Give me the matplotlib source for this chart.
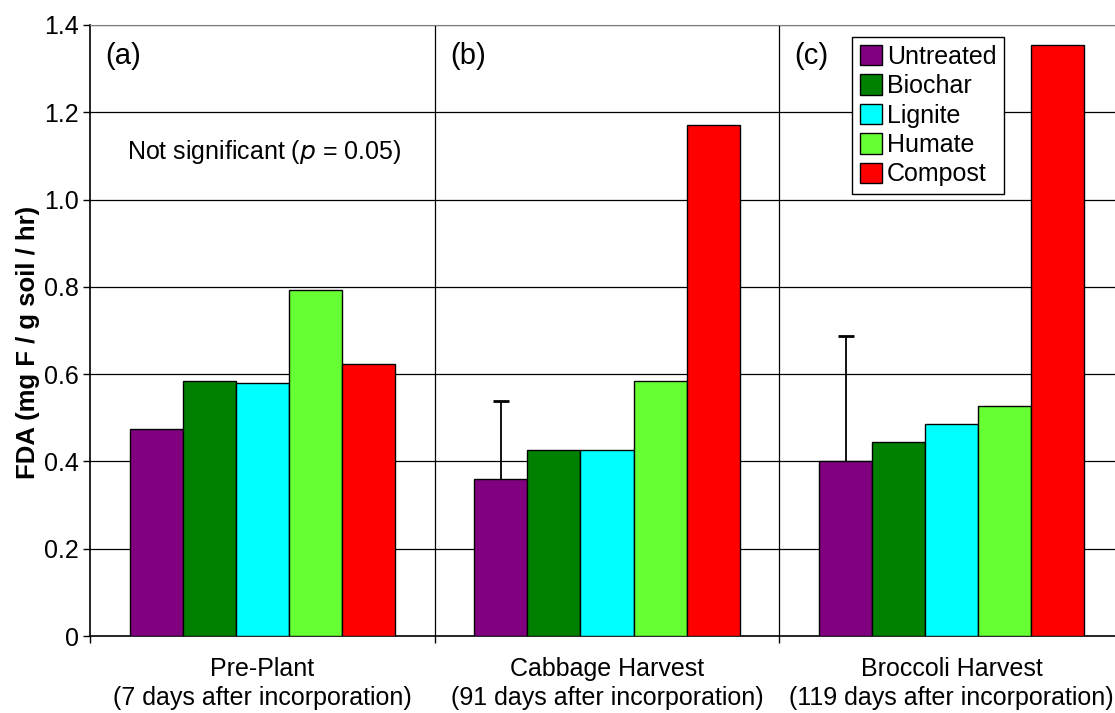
import matplotlib
matplotlib.use('Agg')
import matplotlib.pyplot as plt
import numpy as np

plt.rcParams['font.family'] = ['Liberation Sans', 'DejaVu Sans']

# sampling dates and treatments
stages = ['Pre-Plant\n(7 days after incorporation)',
          'Cabbage Harvest\n(91 days after incorporation)',
          'Broccoli Harvest\n(119 days after incorporation)']
panels = ['(a)', '(b)', '(c)']
treatments = ['Untreated', 'Biochar', 'Lignite', 'Humate', 'Compost']
colors = ['#800080', '#008000', '#00FFFF', '#66FF33', '#FF0000']

# FDA hydrolysis (mg F / g soil / hr), one row per treatment
fda = {
    'Untreated': [0.474, 0.359, 0.402],
    'Biochar':   [0.584, 0.426, 0.445],
    'Lignite':   [0.580, 0.426, 0.486],
    'Humate':    [0.792, 0.584, 0.527],
    'Compost':   [0.624, 1.171, 1.354],
}
# upper error bars shown for the untreated plots only
untreated_err = [0.0, 0.180, 0.286]

fig = plt.figure(figsize=(11.15, 7.13), dpi=100)
ax = fig.add_axes([90 / 1115, 1 - 636 / 713, 1034 / 1115, 611 / 713])

x = np.arange(len(stages))
w = 0.154
for i, t in enumerate(treatments):
    pos = x + (i - 2) * w
    ax.bar(pos, fda[t], w, color=colors[i], edgecolor='black', linewidth=1.0,
           label=t, zorder=3)
    if t == 'Untreated':
        # one-sided bars: stem up from the bar top, cap only at the end
        for px, v, e in zip(pos, fda[t], untreated_err):
            if e > 0:
                ax.vlines(px, v, v + e, color='black', linewidth=1.3, zorder=2)
                ax.plot(px, v + e, marker='_', markersize=11,
                        markeredgewidth=2, color='black', zorder=2)

ax.set_xlim(-0.5, 2.5)
ax.set_ylim(0, 1.4)

# gridlines and panel separators
for yv in np.arange(0.2, 1.41, 0.2):
    ax.axhline(yv, color='black', linewidth=0.9, zorder=1)
for xv in [0.5, 1.5]:
    ax.axvline(xv, color='black', linewidth=0.9, zorder=1)

yt = np.arange(0, 1.41, 0.2)
ax.set_yticks(yt)
ax.set_yticklabels(['0'] + ['%.1f' % v for v in yt[1:]], fontsize=18)
ax.tick_params(axis='y', direction='out', length=5, width=1, pad=3)

ax.set_xticks(x)
ax.set_xticklabels(stages, fontsize=18, linespacing=1.27)
ax.tick_params(axis='x', which='major', length=0, pad=15)
ax.set_xticks([-0.5, 0.5, 1.5, 2.5], minor=True)
ax.tick_params(axis='x', which='minor', direction='out', length=5, width=1)

ax.spines['left'].set_linewidth(1.2)
ax.spines['bottom'].set_linewidth(1.2)
ax.spines['top'].set_color('#808080')
ax.spines['right'].set_color('#808080')

ax.set_ylabel('FDA (mg F / g soil / hr)', fontsize=18.5, fontweight='bold')
ax.yaxis.set_label_coords(-0.048, 0.48)

for i, p in enumerate(panels):
    ax.text(i - 0.456, 1.329, p, fontsize=21, ha='left', va='center')

ax.text(0.005, 1.109, r'Not significant ($\mathit{p}$ = 0.05)', fontsize=18,
        ha='center', va='center')

leg = ax.legend(loc='upper left', bbox_to_anchor=(852 / 1115, 1 - 37 / 713),
                bbox_transform=fig.transFigure, fontsize=18, frameon=True,
                fancybox=False, edgecolor='black', framealpha=1,
                handlelength=0.9, handleheight=0.9, handletextpad=0.2,
                labelspacing=0.22, borderpad=0.3, borderaxespad=0)
leg.get_frame().set_linewidth(1.0)

plt.savefig('out.png', dpi=100)
